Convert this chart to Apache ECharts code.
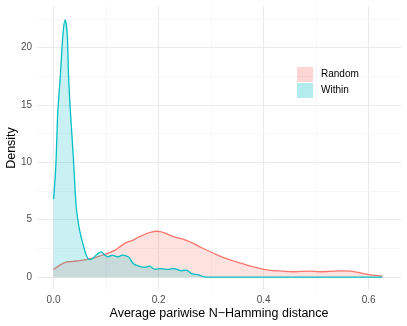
<!DOCTYPE html>
<html>
<head>
<meta charset="utf-8">
<script src="https://cdn.jsdelivr.net/npm/echarts@6/dist/echarts.min.js"></script>
<style>html,body{margin:0;padding:0;background:#fff}#c{width:407px;height:326px}</style>
</head>
<body>
<div id="c"></div>
<script>
const seriesNames = ['Random', 'Within'];
const randomX = [0.000,0.012,0.024,0.037,0.049,0.062,0.075,0.087,0.100,0.110,0.119,0.128,0.138,0.150,0.160,0.170,0.178,0.186,0.195,0.205,0.217,0.230,0.243,0.255,0.268,0.281,0.294,0.306,0.316,0.325,0.340,0.354,0.370,0.392,0.410,0.430,0.455,0.470,0.487,0.506,0.525,0.550,0.565,0.575,0.585,0.594,0.610,0.626];
const randomY = [0.67,1.05,1.30,1.38,1.44,1.53,1.65,1.82,2.02,2.20,2.40,2.70,3.00,3.20,3.45,3.65,3.82,3.92,4.00,3.94,3.75,3.50,3.35,3.16,2.90,2.58,2.30,2.06,1.85,1.68,1.45,1.25,1.02,0.76,0.62,0.54,0.47,0.50,0.53,0.47,0.50,0.55,0.52,0.45,0.36,0.28,0.16,0.09];
const withinX = [0.000,0.003,0.005,0.008,0.013,0.018,0.022,0.026,0.0285,0.032,0.038,0.043,0.048,0.052,0.056,0.062,0.068,0.075,0.083,0.091,0.097,0.103,0.108,0.113,0.118,0.122,0.127,0.132,0.138,0.144,0.150,0.157,0.167,0.175,0.183,0.192,0.200,0.205,0.211,0.217,0.224,0.230,0.237,0.243,0.248,0.254,0.262,0.268,0.274,0.281,0.287,0.300,0.626];
const withinY = [6.8,8.6,10.4,14.3,17.6,21.2,22.4,21.2,17.6,14.5,10.2,6.2,4.5,3.6,2.9,1.95,1.52,1.65,2.0,2.2,1.95,1.77,1.85,1.91,1.82,1.77,1.85,1.91,1.85,1.70,1.28,1.04,0.90,0.86,0.96,0.70,0.72,0.75,0.70,0.67,0.72,0.75,0.65,0.55,0.60,0.58,0.32,0.25,0.22,0.10,0.02,0.0,0.0];
const xTicks = [0, 0.2, 0.4, 0.6];
const xMinor = [0.1, 0.3, 0.5];
const yTicks = [0, 5, 10, 15, 20];
const yMinor = [2.5, 7.5, 12.5, 17.5, 22.5];

const colors = { Random: '#F8766D', Within: '#00BFC4' };
const fills = { Random: 'rgba(248,118,109,0.3)', Within: 'rgba(0,191,196,0.3)' };
const zip = (xs, ys) => xs.map((x, i) => [x, ys[i]]);
const dataMap = { Random: zip(randomX, randomY), Within: zip(withinX, withinY) };

const major = { color: '#ebebeb', width: 1.1, type: 'solid' };
const minor = { color: '#f3f3f3', width: 0.7, type: 'solid' };
const gridLines = [].concat(
  xTicks.map(v => ({ xAxis: v, lineStyle: major })),
  xMinor.map(v => ({ xAxis: v, lineStyle: minor })),
  yTicks.map(v => ({ yAxis: v, lineStyle: major })),
  yMinor.map(v => ({ yAxis: v, lineStyle: minor }))
);

const chart = echarts.init(document.getElementById('c'), null, { renderer: 'canvas' });
chart.setOption({
  animation: false,
  backgroundColor: '#ffffff',
  textStyle: { fontFamily: 'Liberation Sans, Arial, sans-serif' },
  grid: { left: 37, right: 6, top: 6, bottom: 36, containLabel: false, outerBoundsMode: 'none' },
  legend: {
    orient: 'vertical', left: 297, top: 67, itemWidth: 16, itemHeight: 15, itemGap: 1, padding: 0,
    icon: 'rect',
    textStyle: { fontSize: 10, color: '#000', padding: [0, 0, 0, 3] },
    data: seriesNames.map(n => ({ name: n, itemStyle: { color: fills[n], borderWidth: 0 } }))
  },
  xAxis: {
    type: 'value', min: -0.0315, max: 0.6615,
    axisLine: { show: false }, axisTick: { show: false }, splitLine: { show: false },
    axisLabel: { customValues: xTicks, formatter: v => v.toFixed(1), color: '#4d4d4d', fontSize: 10, margin: 5 },
    name: 'Average pariwise N\u2212Hamming distance', nameLocation: 'middle', nameGap: 17, nameMoveOverlap: false,
    nameTextStyle: { fontSize: 12.5, color: '#000' }
  },
  yAxis: {
    type: 'value', min: -1.12, max: 23.62,
    axisLine: { show: false }, axisTick: { show: false }, splitLine: { show: false },
    axisLabel: { customValues: yTicks, color: '#4d4d4d', fontSize: 10, margin: 5 },
    name: 'Density', nameLocation: 'middle', nameGap: 19, nameRotate: 90, nameMoveOverlap: false,
    nameTextStyle: { fontSize: 12.5, color: '#000' }
  },
  series: [
    {
      name: '_grid', type: 'line', data: [], z: 0, silent: true,
      markLine: { silent: true, symbol: 'none', label: { show: false }, animation: false, z: 0, data: gridLines }
    }
  ].concat(seriesNames.map((n, i) => ({
    name: n, type: 'line', data: dataMap[n], z: 2 + i,
    showSymbol: false, symbol: 'none', smooth: 0.3,
    itemStyle: { color: fills[n] },
    lineStyle: { color: colors[n], width: 1.3 },
    areaStyle: { color: fills[n], origin: 0 }
  })))
});
</script>
</body>
</html>
